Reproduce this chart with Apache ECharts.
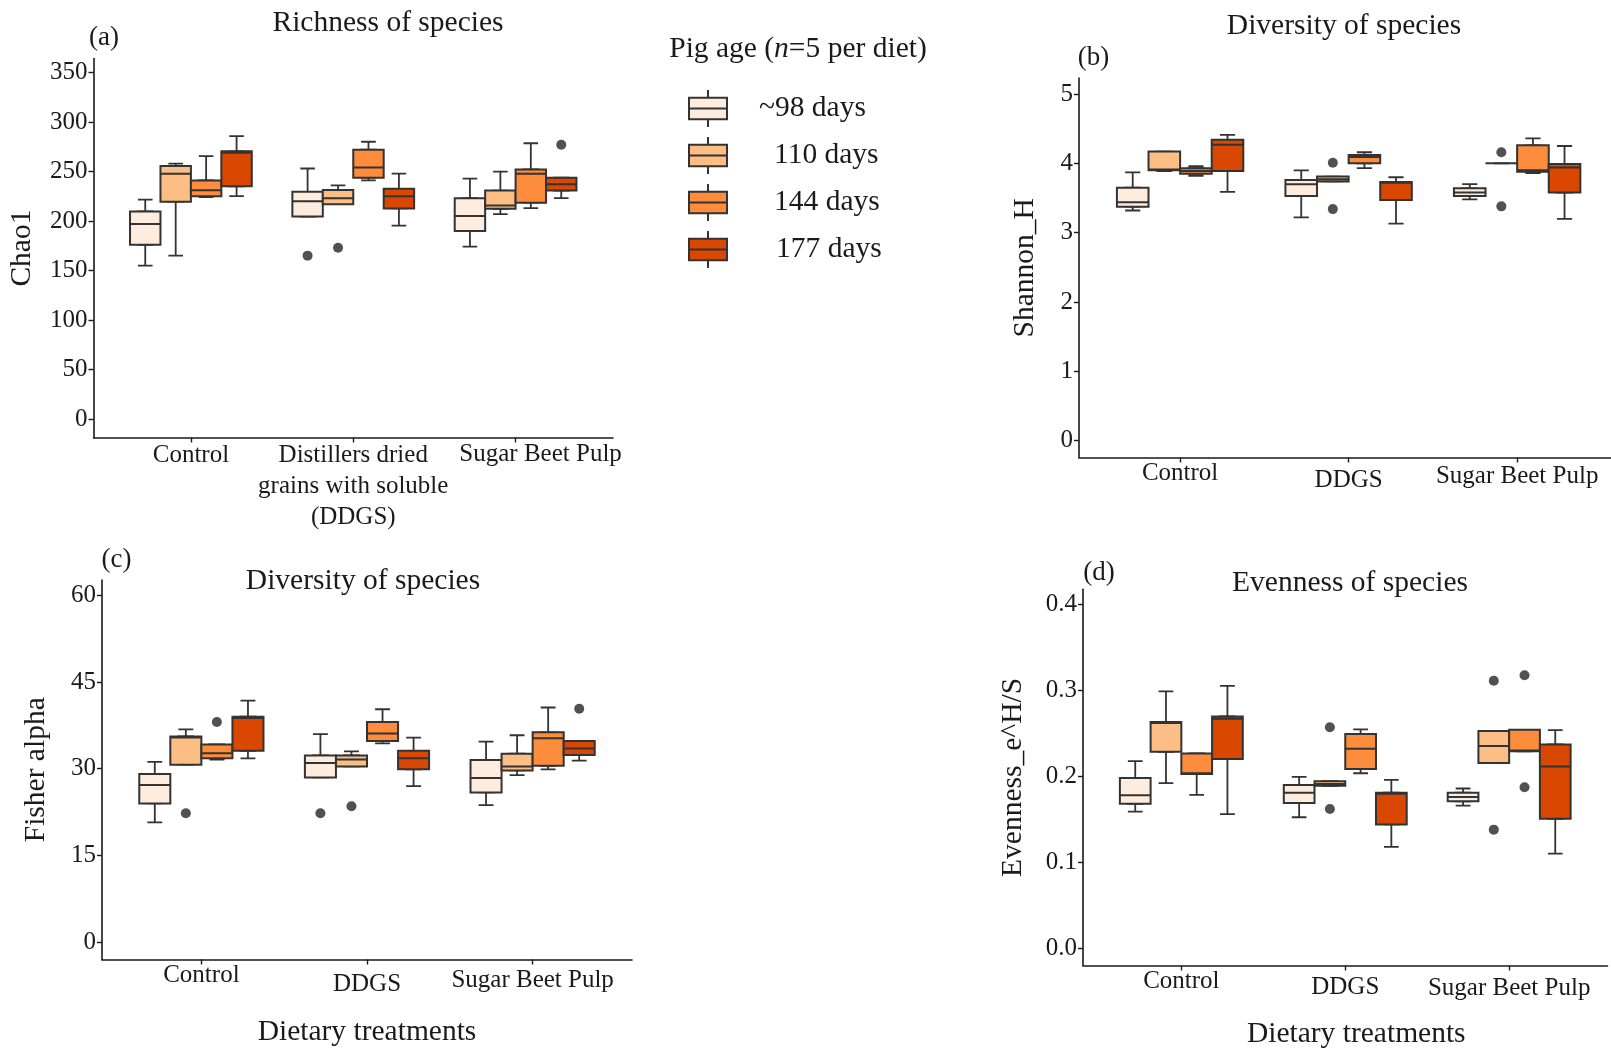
<!DOCTYPE html>
<html><head><meta charset="utf-8">
<script src="https://cdn.jsdelivr.net/npm/echarts@6/dist/echarts.min.js"></script>
<style>html,body{margin:0;padding:0;background:#fff}#chart{width:1611px;height:1050px}</style>
</head><body><div id="chart"></div>
<script>
// ---------- data ----------
const ageGroups = ['~98 days', '110 days', '144 days', '177 days'];
const ageColors = ['#feedde', '#fdbe85', '#fd8d3c', '#d94701'];
const dietsLongNames = ['Control', 'Distillers dried\ngrains with soluble\n(DDGS)', 'Sugar Beet Pulp'];
const dietNames = ['Control', 'DDGS', 'Sugar Beet Pulp'];

// five-number summaries [min, Q1, median, Q3, max]; rows = Control, DDGS, Sugar Beet Pulp
const chao1Age98  = [[155, 176, 197, 209.6, 221.5], [204.5, 204.5, 220, 229.4, 253], [174, 190, 205, 223, 242.7]];
const chao1Age110 = [[165, 219.5, 247.8, 255.6, 258], [217, 217, 223, 231.4, 236], [207, 212.3, 215.7, 230.7, 249.8]];
const chao1Age144 = [[224, 225, 231, 241, 265.5], [241, 243.7, 254, 272, 280], [213, 218.5, 247.8, 252, 278.5]];
const chao1Age177 = [[225, 235, 269, 270.3, 285.6], [195.3, 212.7, 225, 232.5, 247.8], [223, 230.7, 237, 243.7, 243.7]];
const chao1Outliers = [[0, 1, 165], [1, 1, 173], [3, 2, 277]]; // [age index, diet index, value]
const chao1Ticks = [0, 50, 100, 150, 200, 250, 300, 350];

const shannonAge98  = [[3.32, 3.375, 3.44, 3.65, 3.87], [3.22, 3.53, 3.70, 3.76, 3.90], [3.48, 3.53, 3.58, 3.64, 3.70]];
const shannonAge110 = [[3.89, 3.90, 3.91, 4.17, 4.17], [3.74, 3.74, 3.77, 3.81, 3.81], [4.0, 4.0, 4.0, 4.0, 4.0]];
const shannonAge144 = [[3.82, 3.85, 3.89, 3.93, 3.96], [3.93, 4.0, 4.09, 4.12, 4.16], [3.86, 3.88, 3.90, 4.26, 4.36]];
const shannonAge177 = [[3.59, 3.89, 4.27, 4.34, 4.41], [3.13, 3.47, 3.72, 3.73, 3.80], [3.20, 3.58, 3.94, 3.99, 4.25]];
const shannonOutliers = [[1, 1, 4.01], [1, 1, 3.34], [1, 2, 4.16], [1, 2, 3.38]];
const shannonTicks = [0, 1, 2, 3, 4, 5];

const fisherAge98  = [[20.7, 24.0, 27.2, 29.1, 31.2], [28.5, 28.5, 31.0, 32.3, 36.0], [23.7, 25.9, 28.4, 31.5, 34.7]];
const fisherAge110 = [[30.7, 30.7, 35.4, 35.6, 36.8], [30.4, 30.4, 31.6, 32.3, 33.0], [28.9, 29.7, 30.4, 32.6, 35.8]];
const fisherAge144 = [[31.6, 31.8, 32.7, 34.2, 34.2], [34.4, 34.8, 36.1, 38.1, 40.3], [29.9, 30.5, 35.3, 36.3, 40.6]];
const fisherAge177 = [[31.8, 33.1, 38.8, 39.0, 41.8], [27.0, 29.9, 31.8, 33.1, 35.4], [31.4, 32.4, 33.5, 34.8, 34.8]];
const fisherOutliers = [[1, 0, 22.3], [2, 0, 38.1], [0, 1, 22.3], [1, 1, 23.5], [3, 2, 40.4]];
const fisherTicks = [0, 15, 30, 45, 60];

const evenAge98  = [[0.159, 0.168, 0.178, 0.198, 0.2177], [0.1524, 0.169, 0.181, 0.19, 0.1992], [0.166, 0.171, 0.176, 0.181, 0.1858]];
const evenAge110 = [[0.192, 0.2284, 0.262, 0.263, 0.2987], [0.189, 0.189, 0.191, 0.1942, 0.1942], [0.2154, 0.2154, 0.2353, 0.2526, 0.2526]];
const evenAge144 = [[0.1785, 0.2027, 0.2035, 0.2265, 0.2265], [0.2035, 0.2085, 0.232, 0.249, 0.2545], [0.229, 0.229, 0.23, 0.254, 0.254]];
const evenAge177 = [[0.156, 0.22, 0.267, 0.2695, 0.305], [0.118, 0.144, 0.1797, 0.181, 0.1958], [0.110, 0.1505, 0.2115, 0.237, 0.2537]];
const evenOutliers = [[1, 1, 0.257], [1, 1, 0.162], [1, 2, 0.311], [1, 2, 0.138], [2, 2, 0.3175], [2, 2, 0.1873]];
const evenTicks = [0, 0.1, 0.2, 0.3, 0.4];

// ---------- layout / style ----------
const FONT = "'Liberation Serif', 'Times New Roman', serif";
const INK = '#1a1a1a';
const BORDER = '#333333';
const DODGE = 0.75 / ageGroups.length;
const X_MIN = 0.4;
const CATS = [1, 2, 3];

// labelPad: [top, left] padding per category label (mimics the staggered labels of the original)
// splitLabels: category positions whose label is drawn on a separate label-only axis (avoids auto-hiding)
const panels = [
  { boxes: [chao1Age98, chao1Age110, chao1Age144, chao1Age177], outliers: chao1Outliers, ticks: chao1Ticks,
    yName: 'Chao1', names: dietsLongNames, grid: { left: 93.5, top: 58.6, width: 519.5, height: 378.9 },
    yMin: -18.69, yMax: 364.0, xMax: 3.6, yNameGap: 56, labelPad: [[0, 0], [0, 0], [0, 50]], labelMargin: 2,
    splitLabels: [3], xName: '', fmt: v => String(v) },
  { boxes: [shannonAge98, shannonAge110, shannonAge144, shannonAge177], outliers: shannonOutliers, ticks: shannonTicks,
    yName: 'Shannon_H', names: dietNames, grid: { left: 1079, top: 78, width: 532, height: 379.5 },
    yMin: -0.242, yMax: 5.231, xMax: 3.557, yNameGap: 38.5, labelPad: [[0, 0], [16, 0], [8, 0]], labelMargin: 0,
    splitLabels: [], xName: '', fmt: v => String(v) },
  { boxes: [fisherAge98, fisherAge110, fisherAge144, fisherAge177], outliers: fisherOutliers, ticks: fisherTicks,
    yName: 'Fisher alpha', names: dietNames, grid: { left: 102, top: 580, width: 530, height: 379.5 },
    yMin: -3.03, yMax: 62.68, xMax: 3.6, yNameGap: 50.5, labelPad: [[0, 0], [21, 0], [12, 0]], labelMargin: 0,
    splitLabels: [], xName: 'Dietary treatments', xNameGap: 58, xNameShift: 0, fmt: v => String(v) },
  { boxes: [evenAge98, evenAge110, evenAge144, evenAge177], outliers: evenOutliers, ticks: evenTicks,
    yName: 'Evenness_e^H/S', names: dietNames, grid: { left: 1083, top: 589.3, width: 524.5, height: 379.7 },
    yMin: -0.0199, yMax: 0.4173, xMax: 3.6, yNameGap: 54.5, labelPad: [[0, 0], [14, 0], [16, 0]], labelMargin: 0,
    splitLabels: [], xName: 'Dietary treatments', xNameGap: 53.5, xNameShift: 22, fmt: v => v.toFixed(1) }
];

const grids = [], xAxes = [], yAxes = [], series = [];

panels.forEach((p, pi) => {
  grids.push(Object.assign({ containLabel: false }, p.grid));
  const unitPx = p.grid.width / (p.xMax - X_MIN);
  const boxPx = DODGE * unitPx;
  const rich = {};
  p.labelPad.forEach((pad, i) => {
    rich['s' + i] = { fontFamily: FONT, fontSize: 25, lineHeight: 29, color: INK, padding: [pad[0], 0, 0, pad[1]] };
  });
  const catFormatter = function (v) {
    const i = Math.round(v) - 1;
    if (i < 0 || i > 2) return '';
    if (p.labelPad[i][0] === 0 && p.labelPad[i][1] === 0) return p.names[i];
    return '{s' + i + '|' + p.names[i] + '}';
  };
  const labelStyle = { margin: p.labelMargin, color: INK, hideOverlap: false,
    fontFamily: FONT, fontSize: 25, lineHeight: 31, formatter: catFormatter, rich: rich };

  // visible x axis
  const mainIdx = xAxes.length;
  xAxes.push({
    type: 'value', gridIndex: pi, position: 'bottom', min: X_MIN, max: p.xMax,
    splitLine: { show: false },
    axisLine: { show: true, onZero: false, lineStyle: { color: INK, width: 1.6 } },
    axisTick: { show: true, length: 5, lineStyle: { color: INK, width: 1.4 }, customValues: CATS },
    axisLabel: Object.assign({ show: true, customValues: CATS.filter(c => p.splitLabels.indexOf(c) < 0) }, labelStyle),
    name: p.xName, nameLocation: 'middle', nameGap: p.xNameGap || 0,
    nameTextStyle: { fontFamily: FONT, fontSize: 29.5, color: INK, padding: [0, 0, 0, p.xNameShift || 0] }
  });
  // hidden x axis for whiskers
  const whiskerIdx = xAxes.length;
  xAxes.push({ type: 'value', gridIndex: pi, position: 'top', min: X_MIN, max: p.xMax, show: false, splitLine: { show: false } });
  // label-only axis for labels that would otherwise be auto-hidden
  if (p.splitLabels.length) {
    xAxes.push({
      type: 'value', gridIndex: pi, position: 'bottom', min: X_MIN, max: p.xMax,
      splitLine: { show: false },
      axisLine: { show: false, onZero: false }, axisTick: { show: false },
      axisLabel: Object.assign({ show: true, customValues: p.splitLabels }, labelStyle)
    });
  }
  yAxes.push({
    type: 'value', gridIndex: pi, min: p.yMin, max: p.yMax,
    splitLine: { show: false },
    axisLine: { show: true, onZero: false, lineStyle: { color: INK, width: 1.6 } },
    axisTick: { show: true, length: 5, lineStyle: { color: INK, width: 1.4 }, customValues: p.ticks },
    axisLabel: { show: true, customValues: p.ticks, margin: 6, color: INK, fontFamily: FONT, fontSize: 25, formatter: p.fmt },
    name: p.yName, nameLocation: 'middle', nameRotate: 90, nameGap: p.yNameGap,
    nameTextStyle: { fontFamily: FONT, fontSize: 29.5, color: INK }
  });

  const boxData = [], whiskerData = [], outData = [];
  p.boxes.forEach((ageRows, a) => {
    ageRows.forEach((s, d) => {
      const x = (d + 1) + (a - (ageGroups.length - 1) / 2) * DODGE;
      whiskerData.push([x, s[0], s[1], s[2], s[3], s[4]]);
      boxData.push({ value: [x, s[1], s[1], s[2], s[3], s[3]], itemStyle: { color: ageColors[a] } });
    });
  });
  p.outliers.forEach(o => {
    const x = (o[1] + 1) + (o[0] - (ageGroups.length - 1) / 2) * DODGE;
    outData.push([x, o[2]]);
  });
  series.push({
    type: 'boxplot', name: 'whiskers' + pi, xAxisIndex: whiskerIdx, yAxisIndex: pi, z: 2,
    boxWidth: [boxPx * 0.48, boxPx * 0.48], silent: true,
    itemStyle: { color: BORDER, borderColor: BORDER, borderWidth: 1.8 },
    data: whiskerData
  });
  series.push({
    type: 'boxplot', name: 'boxes' + pi, xAxisIndex: mainIdx, yAxisIndex: pi, z: 3,
    boxWidth: [boxPx, boxPx], silent: true,
    itemStyle: { borderColor: BORDER, borderWidth: 2 },
    data: boxData
  });
  series.push({
    type: 'scatter', name: 'outliers' + pi, xAxisIndex: mainIdx, yAxisIndex: pi, z: 4,
    symbol: 'circle', symbolSize: 10, silent: true,
    itemStyle: { color: '#262626' },
    data: outData
  });
});

// hidden axis carrying legend-only series
xAxes.push({ type: 'value', gridIndex: 0, position: 'top', min: X_MIN, max: 3.6, show: false });
ageGroups.forEach((g, a) => {
  series.push({
    type: 'boxplot', name: g, xAxisIndex: xAxes.length - 1, yAxisIndex: 0,
    itemStyle: { color: ageColors[a], borderColor: BORDER, borderWidth: 2 },
    data: []
  });
});

const legendPads = [27, 42, 42, 44];
const iconPath = 'path://M19.5,0L19.5,8M0,8L39,8L39,30L0,30ZM0,19L39,19M19.5,30L19.5,38';

function label(text, x, y, size) {
  return { type: 'text', x: x, y: y, silent: true,
    style: { text: text, fontFamily: FONT, fontSize: size, fill: INK, align: 'center', verticalAlign: 'middle' } };
}

const option = {
  animation: false,
  backgroundColor: '#ffffff',
  textStyle: { fontFamily: FONT },
  grid: grids,
  xAxis: xAxes,
  yAxis: yAxes,
  legend: {
    orient: 'vertical', left: 683, top: 84,
    itemWidth: 38, itemHeight: 38, itemGap: 8,
    icon: iconPath,
    itemStyle: { borderColor: BORDER, borderWidth: 2 },
    textStyle: { fontFamily: FONT, fontSize: 29.5, color: INK },
    data: ageGroups.map((g, i) => ({
      name: g,
      itemStyle: { color: ageColors[i], borderColor: BORDER, borderWidth: 2 },
      textStyle: { padding: [0, 0, 0, legendPads[i]] }
    })),
    selectedMode: false
  },
  graphic: [
    label('Richness of species', 388, 23, 29.5),
    label('Diversity of species', 1344, 26, 29.5),
    label('Diversity of species', 363, 581, 29.5),
    label('Evenness of species', 1350, 583, 29.5),
    label('(a)', 104, 38, 27),
    label('(b)', 1093.5, 58, 27),
    label('(c)', 116.5, 560, 27),
    label('(d)', 1099, 573, 27),
    { type: 'text', x: 798, y: 49, silent: true,
      style: { text: '{a|Pig age (}{i|n}{a|=5 per diet)}', align: 'center', verticalAlign: 'middle',
        fontFamily: FONT, fontSize: 29.5, fill: INK,
        rich: { a: { fontFamily: FONT, fontSize: 29.5, color: INK },
                i: { fontFamily: FONT, fontSize: 29.5, color: INK, fontStyle: 'italic' } } } }
  ],
  series: series
};

const chart = echarts.init(document.getElementById('chart'), null, { renderer: 'canvas' });
chart.setOption(option);
</script>
</body></html>
